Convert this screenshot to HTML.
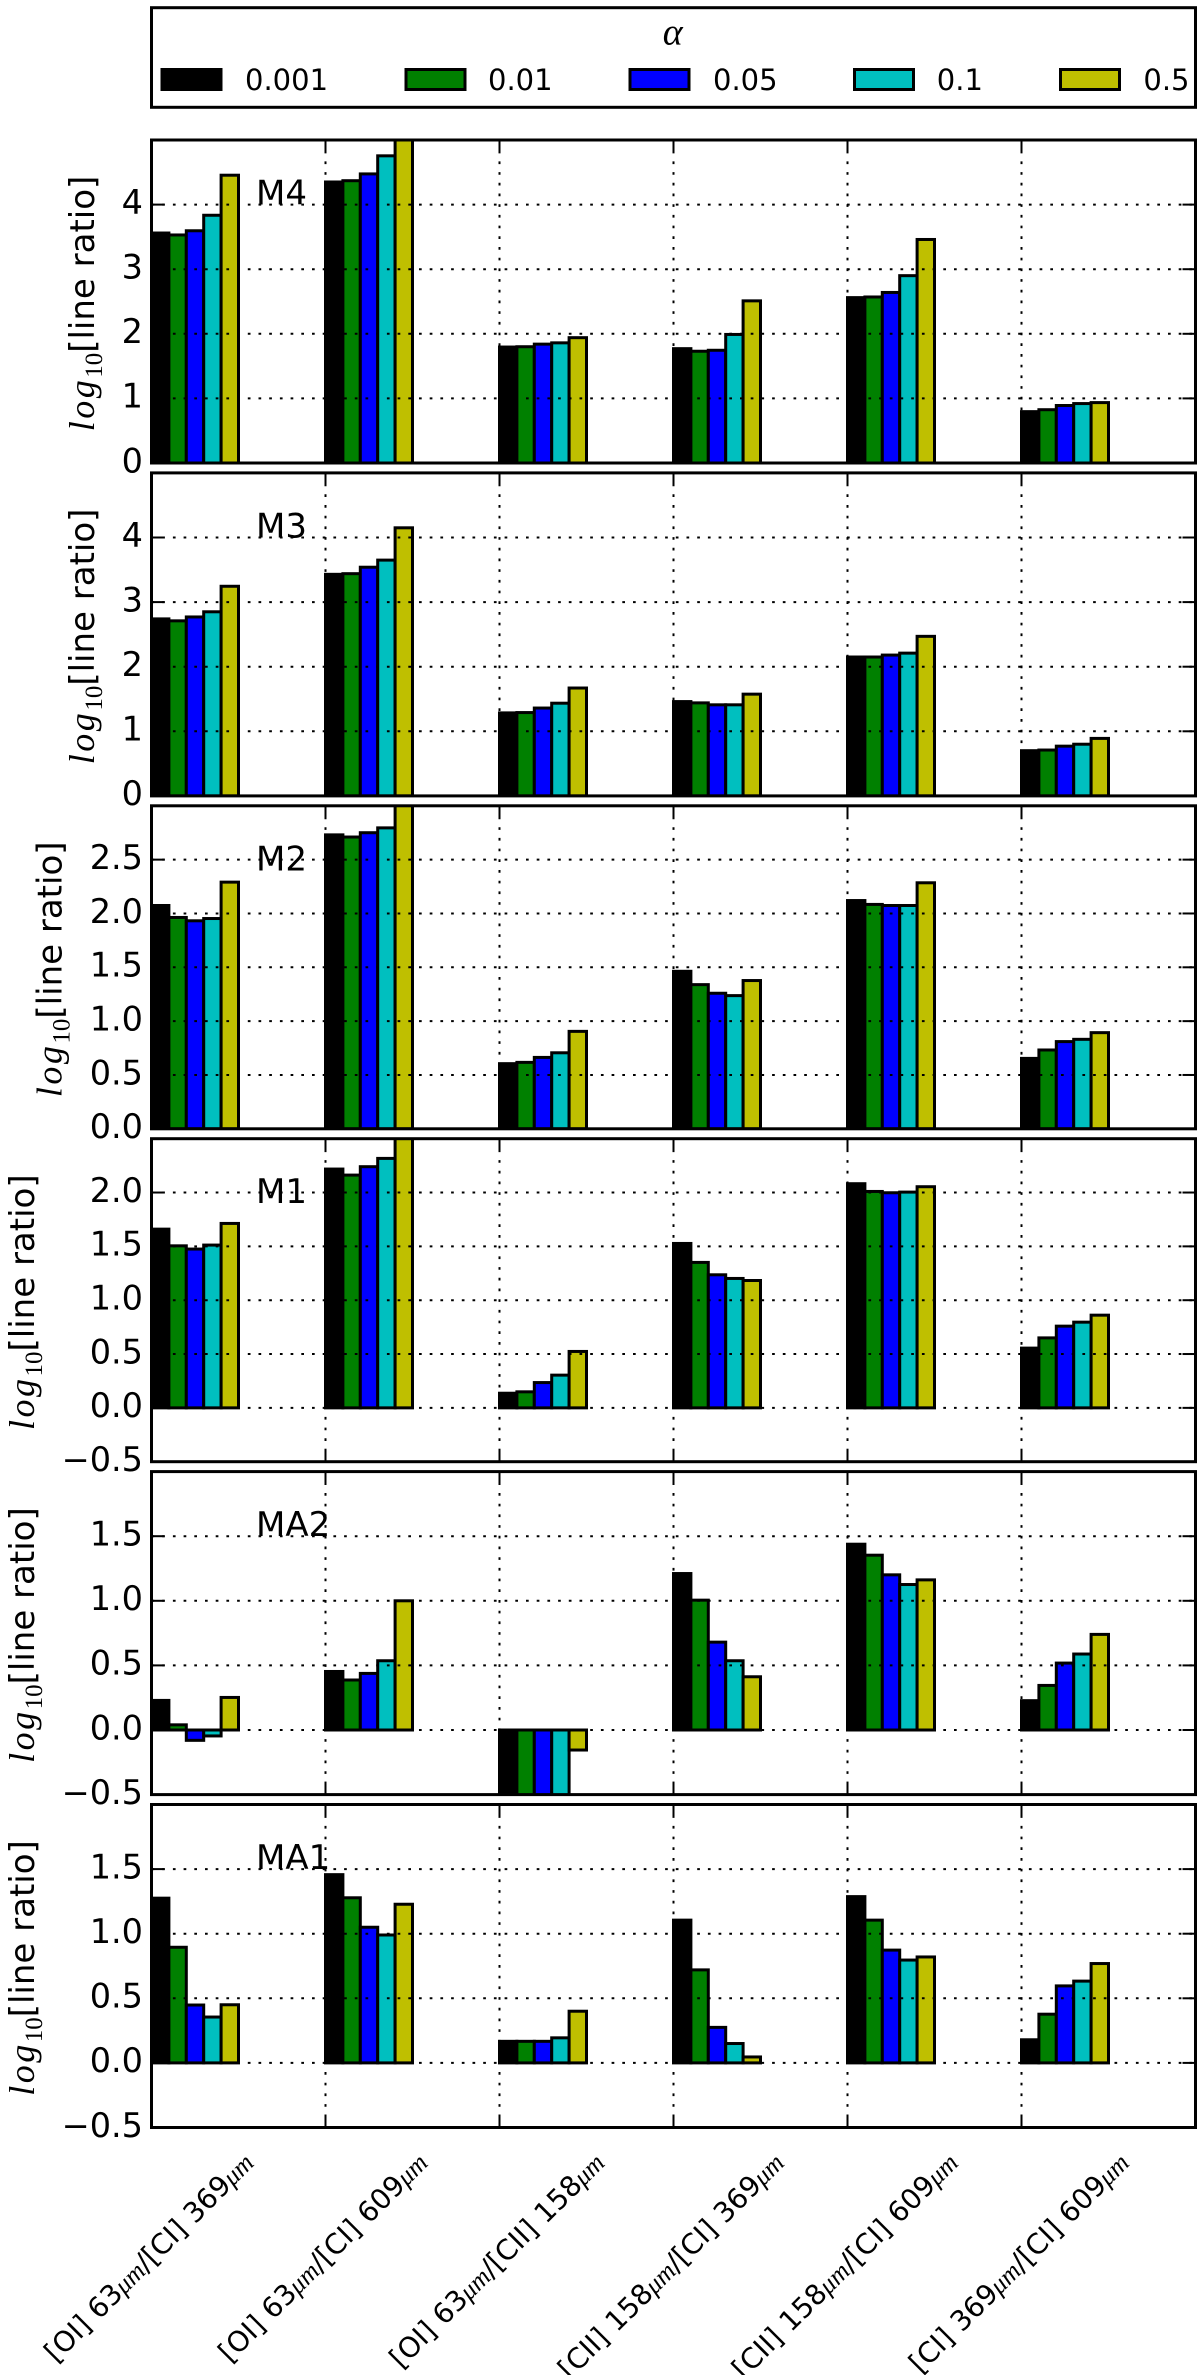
<!DOCTYPE html>
<html lang="en">
<head>
<meta charset="utf-8">
<title>Line ratios by model and alpha</title>
<style>
html,body{margin:0;padding:0;background:#fff;width:1200px;height:2375px;overflow:hidden}
svg{display:block}
text{fill:#000;font-family:"DejaVu Sans","Liberation Sans",sans-serif}
.math{font-family:"Liberation Serif",serif;font-style:italic}
.num{font-family:"Liberation Serif",serif;font-style:normal}
.s0{fill:#000000}.s1{fill:#008000}.s2{fill:#0000ff}.s3{fill:#00bfbf}.s4{fill:#bfbf00}
.bar{stroke:#000;stroke-width:3;stroke-linejoin:miter}
.grid{stroke:#000;stroke-width:2;stroke-dasharray:2.7 8;fill:none}
.tick{stroke:#000;stroke-width:2;fill:none}
.frame{stroke:#000;stroke-width:3;fill:none}
</style>
</head>
<body>
<svg id="figure" xmlns="http://www.w3.org/2000/svg" width="1200" height="2375" viewBox="0 0 1200 2375">
  <rect x="0" y="0" width="1200" height="2375" fill="#fff"/>
  <g>
    <rect class="frame" x="151.5" y="7.7" width="1044" height="99.6"/>
    <text class="math" x="672.7" y="44.5" text-anchor="middle" font-size="38">α</text>
    <g>
      <rect class="bar s0" x="162" y="69.5" width="59" height="20"/>
      <text x="245" y="90" font-size="29">0.001</text>
    </g>
    <g>
      <rect class="bar s1" x="406" y="69.5" width="59" height="20"/>
      <text x="488" y="90" font-size="29">0.01</text>
    </g>
    <g>
      <rect class="bar s2" x="630" y="69.5" width="59" height="20"/>
      <text x="713" y="90" font-size="29">0.05</text>
    </g>
    <g>
      <rect class="bar s3" x="854.5" y="69.5" width="59" height="20"/>
      <text x="936.8" y="90" font-size="29">0.1</text>
    </g>
    <g>
      <rect class="bar s4" x="1060.5" y="69.5" width="59" height="20"/>
      <text x="1143.4" y="90" font-size="29">0.5</text>
    </g>
  </g>
</svg>
<script>
const panelNames = ['M4', 'M3', 'M2', 'M1', 'MA2', 'MA1'];
const lineRatios = [
  '[OI] 63μm/[CI] 369μm',
  '[OI] 63μm/[CI] 609μm',
  '[OI] 63μm/[CII] 158μm',
  '[CII] 158μm/[CI] 369μm',
  '[CII] 158μm/[CI] 609μm',
  '[CI] 369μm/[CI] 609μm'
];
const alphaValues = ['0.001', '0.01', '0.05', '0.1', '0.5'];

const m4Values = [
  [3.56, 4.35, 1.795, 1.77, 2.56, 0.795],
  [3.53, 4.37, 1.80, 1.73, 2.57, 0.825],
  [3.595, 4.475, 1.84, 1.745, 2.64, 0.89],
  [3.835, 4.755, 1.86, 1.99, 2.90, 0.92],
  [4.455, 5.3, 1.94, 2.51, 3.46, 0.935]
];
const m3Values = [
  [2.74, 3.43, 1.285, 1.46, 2.15, 0.70],
  [2.71, 3.44, 1.29, 1.44, 2.15, 0.71],
  [2.77, 3.54, 1.36, 1.41, 2.18, 0.77],
  [2.85, 3.65, 1.435, 1.41, 2.21, 0.80],
  [3.245, 4.15, 1.67, 1.575, 2.47, 0.89]
];
const m2Values = [
  [2.074, 2.73, 0.605, 1.463, 2.12, 0.654],
  [1.963, 2.71, 0.617, 1.339, 2.084, 0.732],
  [1.932, 2.75, 0.663, 1.259, 2.074, 0.81],
  [1.953, 2.795, 0.706, 1.237, 2.074, 0.831],
  [2.291, 3.1, 0.905, 1.377, 2.285, 0.893]
];
const m1Values = [
  [1.66, 2.218, 0.136, 1.527, 2.082, 0.555],
  [1.505, 2.162, 0.149, 1.351, 2.01, 0.65],
  [1.475, 2.24, 0.235, 1.236, 1.998, 0.759],
  [1.512, 2.317, 0.304, 1.202, 2.004, 0.796],
  [1.713, 2.6, 0.524, 1.183, 2.054, 0.861]
];
const ma2Values = [
  [0.229, 0.453, -0.6, 1.211, 1.438, 0.227],
  [0.04, 0.387, -0.6, 1.005, 1.353, 0.345],
  [-0.08, 0.438, -0.6, 0.68, 1.201, 0.518],
  [-0.046, 0.536, -0.6, 0.536, 1.126, 0.588],
  [0.252, 1.0, -0.155, 0.412, 1.162, 0.74]
];
const ma1Values = [
  [1.275, 1.457, 0.167, 1.105, 1.287, 0.179],
  [0.895, 1.278, 0.167, 0.72, 1.105, 0.377],
  [0.448, 1.05, 0.167, 0.275, 0.873, 0.596],
  [0.355, 0.99, 0.194, 0.15, 0.796, 0.633],
  [0.45, 1.228, 0.40, 0.046, 0.82, 0.769]
];
const panelValues = [m4Values, m3Values, m2Values, m1Values, ma2Values, ma1Values];

const m4Ticks = ['0', '1', '2', '3', '4'];
const m3Ticks = ['0', '1', '2', '3', '4'];
const m2Ticks = ['0.0', '0.5', '1.0', '1.5', '2.0', '2.5'];
const m1Ticks = ['−0.5', '0.0', '0.5', '1.0', '1.5', '2.0'];
const ma2Ticks = ['−0.5', '0.0', '0.5', '1.0', '1.5'];
const ma1Ticks = ['−0.5', '0.0', '0.5', '1.0', '1.5'];
const panelTicks = [m4Ticks, m3Ticks, m2Ticks, m1Ticks, ma2Ticks, ma1Ticks];

const yMinimums = [0, 0, 0, -0.5, -0.5, -0.5];
const yMaximums = [5, 5, 3, 2.5, 2, 2];

const NS = 'http://www.w3.org/2000/svg';
const figure = document.getElementById('figure');
const AX_LEFT = 151.5, AX_RIGHT = 1195.5, PANEL_H = 323, PANEL_STEP = 332.9, PANEL_TOP0 = 140;
const BAR_WIDTH = 0.1;

function xScale(v) {
  return AX_LEFT + (v / lineRatios.length) * (AX_RIGHT - AX_LEFT);
}
function yScaleFor(p) {
  const top = PANEL_TOP0 + p * PANEL_STEP;
  return function (v) {
    return top + PANEL_H * (yMaximums[p] - v) / (yMaximums[p] - yMinimums[p]);
  };
}
function make(tag, parent, props) {
  const el = document.createElementNS(NS, tag);
  for (const k in props) el.setAttribute(k, props[k]);
  parent.appendChild(el);
  return el;
}
function tickNumber(label) {
  return Number(label.replace('−', '-'));
}
function ylabelBaseline(p) {
  return p < 2 ? 94 : (p === 2 ? 61.5 : 34);
}

function drawPanel(p) {
  const name = panelNames[p].toLowerCase();
  const top = PANEL_TOP0 + p * PANEL_STEP;
  const bottom = top + PANEL_H;
  const y = yScaleFor(p);

  const group = make('g', figure, {});
  
  

  const clip = make('clipPath', group, { id: 'clip-' + name });
  make('rect', clip, { x: AX_LEFT, y: top, width: AX_RIGHT - AX_LEFT, height: PANEL_H });

  const bars = make('g', group, { 'clip-path': 'url(#clip-' + name + ')' });
  
  
  panelValues[p].forEach(function (series, s) {
    series.forEach(function (value, g) {
      const x0 = xScale(g + s * BAR_WIDTH);
      const x1 = xScale(g + (s + 1) * BAR_WIDTH);
      const y0 = y(0);
      const yv = y(value);
      const bar = make('rect', bars, {
        class: 'bar s' + s,
        x: x0,
        y: Math.min(y0, yv),
        width: x1 - x0,
        height: Math.abs(y0 - yv)
      });
      
      
    });
  });

  const gridGroup = make('g', group, {});
  
  
  panelTicks[p].forEach(function (label) {
    const ty = y(tickNumber(label));
    const line = make('line', gridGroup, { class: 'grid', x1: AX_LEFT, x2: AX_RIGHT, y1: ty, y2: ty });
    
    
    const tl = make('line', gridGroup, { class: 'tick', x1: AX_LEFT, x2: AX_LEFT + 13, y1: ty, y2: ty });
    
    
    const tr = make('line', gridGroup, { class: 'tick', x1: AX_RIGHT - 13, x2: AX_RIGHT, y1: ty, y2: ty });
    
    
    const txt = make('text', group, { x: 143, y: ty + 9.3, 'text-anchor': 'end', 'font-size': 33.5 });
    txt.textContent = label;
    
    
  });
  lineRatios.forEach(function (c, g) {
    if (g === 0) return;
    const tx = xScale(g);
    const line = make('line', gridGroup, { class: 'grid', x1: tx, x2: tx, y1: top, y2: bottom });
    
    
    const tt = make('line', gridGroup, { class: 'tick', x1: tx, x2: tx, y1: top, y2: top + 13 });
    
    
    const tb = make('line', gridGroup, { class: 'tick', x1: tx, x2: tx, y1: bottom - 13, y2: bottom });
    
    
  });

  const frame = make('rect', group, { class: 'frame', x: AX_LEFT, y: top, width: AX_RIGHT - AX_LEFT, height: PANEL_H });
  
  

  const label = make('text', group, { x: 256, y: top + 64.5, 'font-size': 34 });
  label.textContent = panelNames[p];
  
  

  const bx = ylabelBaseline(p);
  const cy = top + PANEL_H / 2 + 2;
  const yTitle = make('text', group, { transform: 'translate(' + bx + ',' + cy + ') rotate(-90)', 'text-anchor': 'middle', 'font-size': 34 });
  
  
  const t1 = make('tspan', yTitle, { class: 'math', 'font-size': 36, 'letter-spacing': 2.5 });
  t1.textContent = 'log';
  const t2 = make('tspan', yTitle, { class: 'num', 'font-size': 25, dy: 8 });
  t2.textContent = '10';
  const t3 = make('tspan', yTitle, { dy: -8 });
  t3.textContent = '[line ratio]';
}

function drawCategoryLabels() {
  const group = make('g', figure, {});
  
  
  const topY = 2147, depth = 29;
  lineRatios.forEach(function (cat, g) {
    const tick = make('text', group, { 'text-anchor': 'middle', 'font-size': 28 });
    
    
    const parts = cat.split('μm');
    parts.forEach(function (part, i) {
      if (part) {
        const plain = make('tspan', tick, {});
        plain.textContent = part;
      }
      if (i < parts.length - 1) {
        const unit = make('tspan', tick, { class: 'math', 'font-size': 26 });
        unit.textContent = 'μm';
      }
    });
    const len = tick.getComputedTextLength();
    const half = (len + depth) / (2 * Math.SQRT2);
    const cx = xScale(g) - 3;
    const cy = topY + half;
    tick.setAttribute('transform', 'translate(' + cx + ',' + cy + ') rotate(-45)');
    tick.setAttribute('dy', '0.36em');
  });
}

panelNames.forEach(function (n, p) { drawPanel(p); });
drawCategoryLabels();
</script>
</body>
</html>
